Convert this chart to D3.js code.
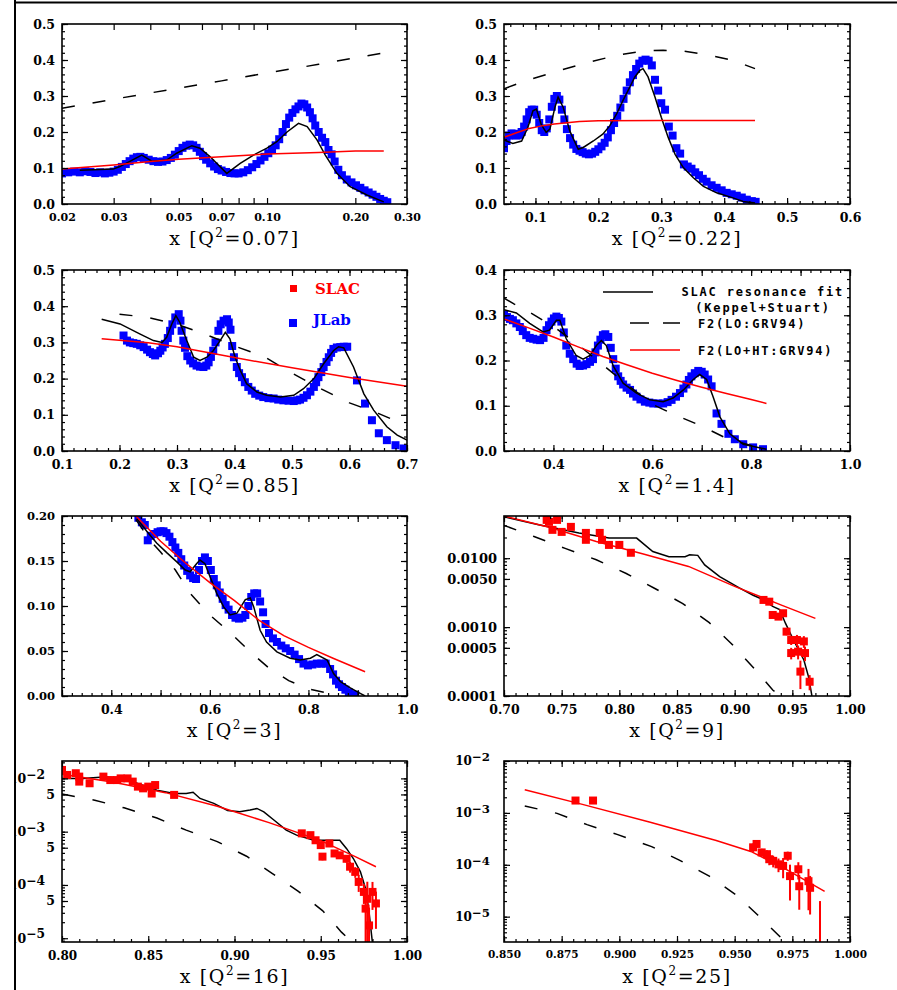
<!DOCTYPE html>
<html><head><meta charset="utf-8">
<script src="https://cdn.jsdelivr.net/npm/d3@7"></script>
<style>body{margin:0;background:#fff}svg{display:block}</style>
</head><body><svg id="c" width="897" height="990"></svg>
<script>
// ---------------- DATA ----------------
// Panel titles (Q^2 values)
const qLabels = ["0.07","0.22","0.85","1.4","3","9","16","25"];

// Panel 1 (Q2=0.07), x log
const p1Blue = [[0.0200,0.085],[0.0210,0.088],[0.0220,0.090],[0.0230,0.088],[0.0240,0.091],[0.0250,0.089],[0.0260,0.086],[0.0270,0.088],[0.0280,0.085],[0.0290,0.087],[0.0300,0.090],[0.0310,0.095],[0.0320,0.103],[0.0330,0.111],[0.0340,0.119],[0.0350,0.126],[0.0360,0.130],[0.0370,0.131],[0.0380,0.128],[0.0395,0.123],[0.0410,0.119],[0.0425,0.117],[0.0440,0.118],[0.0455,0.122],[0.0470,0.128],[0.0485,0.137],[0.0500,0.147],[0.0515,0.156],[0.0530,0.162],[0.0545,0.165],[0.0560,0.163],[0.0575,0.156],[0.0590,0.145],[0.0605,0.133],[0.0620,0.123],[0.0640,0.113],[0.0660,0.104],[0.0680,0.097],[0.0700,0.093],[0.0725,0.089],[0.0750,0.086],[0.0775,0.085],[0.0800,0.085],[0.0830,0.088],[0.0860,0.094],[0.0890,0.102],[0.0920,0.111],[0.0950,0.121],[0.0980,0.131],[0.1010,0.141],[0.1040,0.151],[0.1070,0.163],[0.1100,0.180],[0.1130,0.200],[0.1160,0.222],[0.1190,0.240],[0.1220,0.253],[0.1250,0.263],[0.1280,0.271],[0.1310,0.279],[0.1340,0.277],[0.1370,0.268],[0.1400,0.255],[0.1430,0.238],[0.1460,0.218],[0.1500,0.200],[0.1540,0.184],[0.1580,0.172],[0.1620,0.150],[0.1660,0.138],[0.1700,0.118],[0.1750,0.095],[0.1800,0.080],[0.1870,0.068],[0.1940,0.060],[0.2010,0.052],[0.2080,0.045],[0.2150,0.038],[0.2220,0.032],[0.2290,0.026],[0.2360,0.020],[0.2430,0.014],[0.2500,0.009],[0.2570,0.005]];
const p1Fit = [[0.0230,0.094],[0.0299,0.097],[0.0315,0.104],[0.0374,0.136],[0.0405,0.119],[0.0455,0.122],[0.0492,0.141],[0.0554,0.162],[0.0591,0.155],[0.0640,0.131],[0.0729,0.085],[0.0810,0.113],[0.0899,0.136],[0.0999,0.155],[0.108,0.173],[0.117,0.200],[0.128,0.224],[0.137,0.215],[0.148,0.178],[0.158,0.136],[0.173,0.085],[0.192,0.048],[0.219,0.025],[0.250,0.006]];
const p1LO = [[0.02,0.266],[0.03,0.291],[0.05,0.322],[0.07,0.342],[0.10,0.364],[0.15,0.388],[0.25,0.420]];
const p1HT = [[0.02,0.097],[0.03,0.108],[0.04,0.118],[0.05,0.124],[0.07,0.131],[0.10,0.139],[0.15,0.143],[0.20,0.147],[0.25,0.147]];

// Panel 2 (Q2=0.22)
const p2Blue = [[0.050,0.155],[0.054,0.175],[0.058,0.190],[0.062,0.196],[0.066,0.195],[0.070,0.190],[0.074,0.192],[0.078,0.200],[0.082,0.215],[0.086,0.235],[0.090,0.255],[0.094,0.262],[0.098,0.262],[0.102,0.248],[0.106,0.225],[0.110,0.205],[0.114,0.200],[0.118,0.210],[0.122,0.235],[0.126,0.270],[0.130,0.292],[0.134,0.300],[0.138,0.290],[0.142,0.262],[0.146,0.235],[0.150,0.208],[0.155,0.183],[0.160,0.165],[0.165,0.153],[0.170,0.148],[0.175,0.144],[0.180,0.140],[0.185,0.138],[0.190,0.140],[0.195,0.145],[0.200,0.152],[0.205,0.160],[0.210,0.170],[0.215,0.185],[0.220,0.205],[0.225,0.225],[0.230,0.245],[0.235,0.268],[0.240,0.292],[0.245,0.315],[0.250,0.338],[0.255,0.358],[0.260,0.375],[0.265,0.390],[0.270,0.398],[0.275,0.401],[0.280,0.398],[0.285,0.385],[0.290,0.345],[0.295,0.315],[0.300,0.280],[0.306,0.262],[0.312,0.215],[0.318,0.190],[0.324,0.155],[0.330,0.140],[0.336,0.110],[0.342,0.104],[0.348,0.098],[0.354,0.088],[0.360,0.080],[0.366,0.070],[0.372,0.062],[0.380,0.052],[0.388,0.045],[0.396,0.038],[0.404,0.031],[0.412,0.027],[0.420,0.023],[0.428,0.018],[0.436,0.012],[0.444,0.008],[0.450,0.006]];
const p2Fit = [[0.050,0.178],[0.064,0.168],[0.078,0.175],[0.088,0.213],[0.096,0.259],[0.1015,0.264],[0.109,0.222],[0.117,0.199],[0.123,0.208],[0.131,0.269],[0.136,0.297],[0.144,0.269],[0.1545,0.203],[0.168,0.152],[0.176,0.157],[0.192,0.175],[0.207,0.194],[0.218,0.217],[0.229,0.250],[0.239,0.287],[0.250,0.325],[0.258,0.353],[0.266,0.371],[0.271,0.376],[0.279,0.353],[0.290,0.297],[0.300,0.241],[0.311,0.185],[0.322,0.138],[0.335,0.101],[0.351,0.073],[0.367,0.049],[0.388,0.031],[0.414,0.017],[0.430,0.007],[0.449,0.003]];
const p2LO = [[0.050,0.320],[0.0855,0.343],[0.139,0.371],[0.176,0.390],[0.229,0.413],[0.271,0.425],[0.303,0.427],[0.335,0.425],[0.377,0.413],[0.414,0.399],[0.449,0.376]];
const p2HT = [[0.05,0.185],[0.07,0.198],[0.09,0.210],[0.11,0.217],[0.13,0.222],[0.15,0.226],[0.17,0.229],[0.20,0.231],[0.30,0.232],[0.449,0.232]];

// Panel 3 (Q2=0.85)
const p3Blue = [[0.207,0.319],[0.213,0.305],[0.218,0.300],[0.224,0.298],[0.230,0.296],[0.236,0.292],[0.242,0.287],[0.248,0.280],[0.253,0.273],[0.258,0.268],[0.262,0.264],[0.267,0.270],[0.271,0.277],[0.275,0.286],[0.279,0.296],[0.284,0.312],[0.288,0.332],[0.292,0.350],[0.297,0.369],[0.303,0.378],[0.306,0.360],[0.308,0.332],[0.311,0.305],[0.314,0.285],[0.318,0.262],[0.323,0.250],[0.328,0.242],[0.334,0.236],[0.340,0.233],[0.346,0.232],[0.351,0.236],[0.355,0.245],[0.359,0.260],[0.363,0.277],[0.367,0.300],[0.372,0.332],[0.376,0.350],[0.381,0.360],[0.387,0.364],[0.390,0.355],[0.393,0.335],[0.396,0.290],[0.399,0.259],[0.404,0.232],[0.408,0.215],[0.413,0.204],[0.418,0.190],[0.424,0.177],[0.430,0.167],[0.436,0.158],[0.443,0.153],[0.450,0.149],[0.459,0.146],[0.468,0.145],[0.476,0.142],[0.485,0.140],[0.494,0.139],[0.503,0.138],[0.509,0.140],[0.514,0.142],[0.520,0.147],[0.526,0.154],[0.532,0.164],[0.538,0.177],[0.542,0.190],[0.546,0.204],[0.551,0.218],[0.555,0.232],[0.560,0.246],[0.564,0.259],[0.568,0.271],[0.572,0.282],[0.578,0.286],[0.584,0.287],[0.590,0.288],[0.596,0.288],[0.613,0.195],[0.627,0.131],[0.639,0.085],[0.651,0.049],[0.665,0.030],[0.680,0.016],[0.694,0.007]];
const p3Fit = [[0.169,0.364],[0.201,0.351],[0.236,0.323],[0.259,0.305],[0.274,0.300],[0.282,0.314],[0.291,0.351],[0.298,0.374],[0.305,0.355],[0.317,0.305],[0.329,0.259],[0.340,0.250],[0.352,0.259],[0.363,0.277],[0.375,0.305],[0.384,0.328],[0.392,0.310],[0.401,0.259],[0.410,0.223],[0.421,0.186],[0.439,0.163],[0.456,0.154],[0.480,0.149],[0.503,0.154],[0.520,0.172],[0.538,0.200],[0.555,0.241],[0.572,0.277],[0.581,0.288],[0.590,0.285],[0.607,0.232],[0.625,0.158],[0.642,0.113],[0.665,0.067],[0.683,0.044],[0.700,0.030]];
const p3LO = [[0.20,0.378],[0.25,0.369],[0.30,0.350],[0.35,0.322],[0.40,0.290],[0.45,0.262],[0.50,0.215],[0.55,0.172],[0.60,0.133],[0.65,0.104],[0.70,0.070]];
const p3HT = [[0.169,0.310],[0.25,0.299],[0.30,0.288],[0.40,0.258],[0.50,0.230],[0.60,0.203],[0.70,0.179]];

// Panel 4 (Q2=1.4)
const p4Blue = [[0.300,0.301],[0.306,0.296],[0.312,0.292],[0.318,0.289],[0.325,0.282],[0.332,0.274],[0.338,0.265],[0.345,0.256],[0.352,0.250],[0.359,0.248],[0.366,0.246],[0.373,0.245],[0.380,0.250],[0.386,0.267],[0.391,0.278],[0.396,0.286],[0.401,0.293],[0.406,0.297],[0.411,0.294],[0.416,0.286],[0.421,0.262],[0.426,0.233],[0.433,0.215],[0.440,0.203],[0.447,0.193],[0.453,0.188],[0.460,0.189],[0.467,0.192],[0.474,0.197],[0.480,0.203],[0.485,0.218],[0.490,0.233],[0.495,0.246],[0.500,0.256],[0.505,0.258],[0.511,0.252],[0.516,0.228],[0.521,0.203],[0.526,0.182],[0.531,0.165],[0.536,0.155],[0.541,0.147],[0.548,0.140],[0.555,0.135],[0.561,0.127],[0.568,0.120],[0.576,0.114],[0.585,0.109],[0.594,0.107],[0.602,0.105],[0.612,0.105],[0.622,0.105],[0.631,0.108],[0.639,0.113],[0.648,0.120],[0.656,0.128],[0.663,0.138],[0.669,0.147],[0.674,0.157],[0.679,0.165],[0.686,0.172],[0.693,0.177],[0.700,0.175],[0.706,0.169],[0.713,0.158],[0.720,0.143],[0.730,0.083],[0.740,0.060],[0.754,0.038],[0.767,0.026],[0.784,0.015],[0.804,0.008],[0.824,0.004]];
const p4Fit = [[0.300,0.312],[0.325,0.305],[0.352,0.282],[0.379,0.263],[0.392,0.267],[0.406,0.289],[0.413,0.289],[0.426,0.248],[0.446,0.211],[0.460,0.203],[0.474,0.211],[0.487,0.233],[0.497,0.244],[0.507,0.233],[0.521,0.188],[0.541,0.150],[0.568,0.128],[0.595,0.113],[0.622,0.109],[0.642,0.117],[0.663,0.135],[0.683,0.158],[0.696,0.169],[0.710,0.158],[0.723,0.120],[0.737,0.075],[0.757,0.038],[0.784,0.015],[0.831,0.004]];
const p4LO = [[0.30,0.338],[0.32,0.325],[0.35,0.308],[0.40,0.275],[0.45,0.235],[0.50,0.190],[0.55,0.146],[0.60,0.103],[0.65,0.078],[0.70,0.055],[0.75,0.028],[0.80,0.012]];
const p4HT = [[0.30,0.292],[0.35,0.272],[0.40,0.252],[0.45,0.230],[0.50,0.209],[0.55,0.190],[0.60,0.172],[0.65,0.156],[0.70,0.141],[0.75,0.127],[0.80,0.114],[0.831,0.105]];

// Panel 5 (Q2=3)
const p5Blue = [[0.455,0.198],[0.462,0.193],[0.468,0.190],[0.474,0.173],[0.480,0.178],[0.487,0.180],[0.494,0.182],[0.500,0.183],[0.506,0.183],[0.512,0.181],[0.518,0.177],[0.524,0.171],[0.530,0.165],[0.536,0.159],[0.542,0.152],[0.548,0.145],[0.554,0.139],[0.560,0.134],[0.566,0.131],[0.572,0.130],[0.578,0.140],[0.584,0.150],[0.590,0.154],[0.596,0.150],[0.602,0.140],[0.608,0.130],[0.614,0.123],[0.620,0.115],[0.626,0.108],[0.632,0.101],[0.638,0.096],[0.645,0.090],[0.652,0.087],[0.659,0.086],[0.666,0.087],[0.672,0.090],[0.678,0.100],[0.684,0.110],[0.690,0.114],[0.696,0.114],[0.702,0.105],[0.708,0.093],[0.713,0.080],[0.720,0.070],[0.728,0.064],[0.736,0.060],[0.745,0.056],[0.754,0.053],[0.763,0.050],[0.772,0.046],[0.781,0.041],[0.790,0.036],[0.799,0.034],[0.808,0.035],[0.817,0.036],[0.826,0.036],[0.835,0.036],[0.844,0.030],[0.850,0.024],[0.856,0.017],[0.862,0.013],[0.868,0.010],[0.875,0.007],[0.882,0.004],[0.889,0.002],[0.895,0.001]];
const p5Fit = [[0.452,0.197],[0.472,0.183],[0.492,0.170],[0.513,0.159],[0.533,0.149],[0.550,0.140],[0.560,0.138],[0.573,0.147],[0.580,0.151],[0.590,0.147],[0.600,0.133],[0.614,0.114],[0.628,0.099],[0.641,0.090],[0.655,0.092],[0.672,0.107],[0.682,0.109],[0.689,0.099],[0.702,0.073],[0.715,0.060],[0.736,0.049],[0.763,0.042],[0.783,0.040],[0.804,0.042],[0.817,0.046],[0.838,0.040],[0.851,0.025],[0.865,0.016],[0.885,0.009],[0.905,0.003],[0.915,0.000]];
const p5LO = [[0.450,0.196],[0.480,0.172],[0.500,0.160],[0.530,0.140],[0.560,0.114],[0.600,0.090],[0.640,0.071],[0.680,0.050],[0.720,0.031],[0.760,0.017],[0.800,0.008],[0.840,0.003],[0.860,0.001]];
const p5HT = [[0.450,0.200],[0.500,0.172],[0.550,0.148],[0.600,0.126],[0.650,0.106],[0.700,0.084],[0.750,0.067],[0.800,0.054],[0.850,0.042],[0.915,0.027]];

// Panel 6 (Q2=9) — SLAC points: [x, F2, error]
const p6Slac = [[0.737,0.0360,0.003],[0.739,0.0337,0.003],[0.742,0.0258,0.002],[0.746,0.0360,0.003],[0.750,0.0241,0.002],[0.758,0.0285,0.002],[0.771,0.0233,0.002],[0.771,0.0185,0.0015],[0.783,0.0233,0.002],[0.785,0.0185,0.0015],[0.791,0.0156,0.0013],[0.800,0.0156,0.0013],[0.810,0.0120,0.001],[0.925,0.00248,0.0002],[0.930,0.00234,0.0002],[0.933,0.00150,0.00015],[0.938,0.00142,0.00015],[0.942,0.00159,0.00015],[0.945,0.00086,0.0001],[0.949,0.00065,0.0001],[0.954,0.00065,0.00012],[0.960,0.00062,0.00012],[0.949,0.00042,0.00008],[0.955,0.00044,0.0001],[0.961,0.00042,0.0001],[0.957,0.000226,0.0001],[0.965,0.000161,0.00004]];
const p6Fit = [[0.700,0.0399],[0.730,0.0305],[0.765,0.0233],[0.791,0.0196],[0.815,0.0196],[0.829,0.0125],[0.843,0.0105],[0.857,0.0105],[0.861,0.0112],[0.868,0.0110],[0.874,0.0080],[0.887,0.0054],[0.904,0.0037],[0.916,0.0029],[0.925,0.0025],[0.933,0.0020],[0.939,0.0018],[0.944,0.00114],[0.951,0.00065],[0.960,0.000333],[0.964,0.000191],[0.967,0.0001]];
const p6LO = [[0.700,0.0300],[0.726,0.0207],[0.753,0.0139],[0.780,0.0095],[0.806,0.0060],[0.830,0.0037],[0.855,0.0022],[0.878,0.00116],[0.897,0.00058],[0.917,0.00025],[0.933,0.000122],[0.940,0.0001]];
const p6HT = [[0.700,0.0410],[0.740,0.0279],[0.780,0.0175],[0.820,0.0116],[0.860,0.0076],[0.900,0.0039],[0.940,0.0021],[0.970,0.00134]];

// Panel 7 (Q2=16)
const p7Slac = [[0.800,0.0144,0.002],[0.803,0.0116,0.0012],[0.808,0.0125,0.0012],[0.810,0.0108,0.001],[0.810,0.0087,0.0008],[0.816,0.0081,0.0008],[0.824,0.0108,0.001],[0.828,0.0093,0.0009],[0.832,0.0093,0.0009],[0.834,0.0100,0.001],[0.838,0.0100,0.001],[0.841,0.0087,0.0008],[0.844,0.0070,0.0007],[0.847,0.0065,0.0006],[0.850,0.0070,0.0007],[0.852,0.0052,0.0005],[0.854,0.0075,0.0007],[0.865,0.0049,0.0005],[0.939,0.00093,0.0001],[0.944,0.00086,0.0001],[0.947,0.00069,0.00008],[0.950,0.00056,0.00007],[0.951,0.00034,0.00005],[0.955,0.00060,0.00007],[0.958,0.00039,0.00005],[0.961,0.00036,0.00005],[0.965,0.00031,0.00005],[0.967,0.00022,0.00005],[0.970,0.000176,0.00004],[0.972,0.000114,0.00004],[0.975,0.000074,0.00003],[0.977,0.000055,0.00006],[0.980,0.000074,0.00004],[0.976,0.000036,0.00004],[0.978,0.0000174,0.00002],[0.982,0.000045,0.00003]];
const p7Fit = [[0.800,0.0100],[0.812,0.0100],[0.826,0.0107],[0.841,0.0087],[0.855,0.0060],[0.865,0.0052],[0.872,0.0052],[0.876,0.0055],[0.880,0.0042],[0.888,0.0034],[0.896,0.0025],[0.903,0.00236],[0.909,0.00254],[0.913,0.00273],[0.917,0.00236],[0.923,0.00164],[0.930,0.00107],[0.936,0.00086],[0.946,0.00069],[0.955,0.00069],[0.961,0.00069],[0.965,0.00048],[0.969,0.00031],[0.973,0.000176],[0.976,0.000085],[0.978,0.000031],[0.980,0.000008]];
const p7LO = [[0.800,0.0051],[0.819,0.0039],[0.836,0.0028],[0.855,0.0018],[0.872,0.00107],[0.890,0.00065],[0.907,0.000346],[0.922,0.000163],[0.937,0.000076],[0.951,0.000033],[0.962,0.000013],[0.968,0.0000085]];
const p7HT = [[0.800,0.0120],[0.830,0.0085],[0.860,0.0054],[0.890,0.0030],[0.920,0.00148],[0.950,0.00068],[0.970,0.00034],[0.982,0.00022]];

// Panel 8 (Q2=25)
const p8Slac = [[0.881,0.00173,0.00015],[0.8886,0.00173,0.00015],[0.958,0.000217,0.00004],[0.9595,0.000252,0.00004],[0.9617,0.000173,0.00003],[0.964,0.00016,0.00003],[0.965,0.000128,0.00003],[0.9667,0.000119,0.00003],[0.969,0.000102,0.00003],[0.971,0.000095,0.00004],[0.973,0.000149,0.00003],[0.974,0.0000605,0.00004],[0.9776,0.000082,0.00003],[0.978,0.0000386,0.000025],[0.982,0.0000483,0.000035],[0.9827,0.000036,0.000025],[0.987,0.000001,0.000019]];
const p8LO = [[0.859,0.00136],[0.873,0.00098],[0.886,0.000594],[0.899,0.000385],[0.914,0.000224],[0.926,0.000123],[0.939,0.0000605],[0.951,0.0000254],[0.960,0.0000108],[0.969,0.0000044],[0.972,0.0000032]];
const p8HT = [[0.859,0.00279],[0.884,0.00146],[0.913,0.00067],[0.942,0.000293],[0.957,0.000181],[0.971,0.000088],[0.989,0.0000308]];

// Tick labels
const lab01 = [[0,"0.0"],[0.1,"0.1"],[0.2,"0.2"],[0.3,"0.3"],[0.4,"0.4"],[0.5,"0.5"]];
const p1XLabels = [[0.02,"0.02"],[0.03,"0.03"],[0.05,"0.05"],[0.07,"0.07"],[0.1,"0.10"],[0.2,"0.20"],[0.3,"0.30"]];
const p2XLabels = [[0.1,"0.1"],[0.2,"0.2"],[0.3,"0.3"],[0.4,"0.4"],[0.5,"0.5"],[0.6,"0.6"]];
const p3XLabels = [[0.1,"0.1"],[0.2,"0.2"],[0.3,"0.3"],[0.4,"0.4"],[0.5,"0.5"],[0.6,"0.6"],[0.7,"0.7"]];
const p45XLabels = [[0.4,"0.4"],[0.6,"0.6"],[0.8,"0.8"],[1.0,"1.0"]];
const p5YLabels = [[0,"0.00"],[0.05,"0.05"],[0.1,"0.10"],[0.15,"0.15"],[0.2,"0.20"]];
const p6XLabels = [[0.7,"0.70"],[0.75,"0.75"],[0.8,"0.80"],[0.85,"0.85"],[0.9,"0.90"],[0.95,"0.95"],[1.0,"1.00"]];
const p6YLabels = [[1e-4,"0.0001"],[5e-4,"0.0005"],[1e-3,"0.0010"],[5e-3,"0.0050"],[1e-2,"0.0100"]];
const p7XLabels = [[0.8,"0.80"],[0.85,"0.85"],[0.9,"0.90"],[0.95,"0.95"],[1.0,"1.00"]];
const p7YLabels = [[1e-2,"10^−2"],[5e-3,"5"],[1e-3,"10^−3"],[5e-4,"5"],[1e-4,"10^−4"],[5e-5,"5"],[1e-5,"10^−5"]];
const p8XLabels = [[0.85,"0.850"],[0.875,"0.875"],[0.9,"0.900"],[0.925,"0.925"],[0.95,"0.950"],[0.975,"0.975"],[1.0,"1.000"]];
const p8YLabels = [[1e-2,"10^−2"],[1e-3,"10^−3"],[1e-4,"10^−4"],[1e-5,"10^−5"]];

// ---------------- LAYOUT ----------------
const L = {x0:62, x1:407}, R = {x0:504, x1:850};
const rows = [[24,204],[270,451],[516,696],[761,942]];
const step = (a,b,s) => d3.range(Math.round(a/s), Math.round(b/s)+1).map(k => +(k*s).toFixed(6));
const logMinor = (lo,hi) => { const out=[]; for (let e=-7;e<=0;e++) for (let m=1;m<=9;m++){ const v=+(m*Math.pow(10,e)).toPrecision(6); if(v>=lo*0.999&&v<=hi*1.001) out.push(v);} return out; };

const panels = [
 {col:L,row:0,xLog:true,xDom:[0.02,0.3],yDom:[0,0.5],
  xMajor:[0.02,0.03,0.04,0.05,0.06,0.07,0.08,0.09,0.1,0.2,0.3],xMinor:[],xLabels:p1XLabels,xFont:11,
  yMajor:step(0,0.5,0.1),yMinor:step(0,0.5,0.02),yLabels:lab01,yFont:12.5,
  blue:p1Blue,fit:p1Fit,lo:p1LO,ht:p1HT},
 {col:R,row:0,xDom:[0.05,0.6],yDom:[0,0.5],
  xMajor:step(0.1,0.6,0.1),xMinor:step(0.06,0.6,0.02),xLabels:p2XLabels,xFont:12.5,
  yMajor:step(0,0.5,0.1),yMinor:step(0,0.5,0.02),yLabels:lab01,yFont:12.5,
  blue:p2Blue,fit:p2Fit,lo:p2LO,ht:p2HT},
 {col:L,row:1,xDom:[0.1,0.7],yDom:[0,0.5],
  xMajor:step(0.1,0.7,0.1),xMinor:step(0.1,0.7,0.02),xLabels:p3XLabels,xFont:12.5,
  yMajor:step(0,0.5,0.1),yMinor:step(0,0.5,0.02),yLabels:lab01,yFont:12.5,
  blue:p3Blue,fit:p3Fit,lo:p3LO,ht:p3HT},
 {col:R,row:1,xDom:[0.3,1.0],yDom:[0,0.4],
  xMajor:step(0.3,1.0,0.1),xMinor:step(0.3,1.0,0.02),xLabels:p45XLabels,xFont:12.5,
  yMajor:step(0,0.4,0.1),yMinor:step(0,0.4,0.02),yLabels:lab01,yFont:12.5,
  blue:p4Blue,fit:p4Fit,lo:p4LO,ht:p4HT},
 {col:L,row:2,xDom:[0.3,1.0],yDom:[0,0.2],
  xMajor:step(0.3,1.0,0.1),xMinor:step(0.3,1.0,0.02),xLabels:p45XLabels,xFont:12.5,
  yMajor:step(0,0.2,0.05),yMinor:step(0,0.2,0.01),yLabels:p5YLabels,yFont:11.5,
  blue:p5Blue,fit:p5Fit,lo:p5LO,ht:p5HT},
 {col:R,row:2,yLog:true,xDom:[0.7,1.0],yDom:[1e-4,0.041],
  xMajor:step(0.7,1.0,0.05),xMinor:step(0.7,1.0,0.01),xLabels:p6XLabels,xFont:12.5,
  yMajor:[1e-4,5e-4,1e-3,5e-3,1e-2],yMinor:logMinor(1e-4,0.041),yLabels:p6YLabels,yFont:13,
  slac:p6Slac,fit:p6Fit,lo:p6LO,ht:p6HT},
 {col:L,row:3,yLog:true,xDom:[0.8,1.0],yDom:[8.5e-6,0.0212],
  xMajor:step(0.8,1.0,0.05),xMinor:step(0.8,1.0,0.01),xLabels:p7XLabels,xFont:12,
  yMajor:[1e-5,5e-5,1e-4,5e-4,1e-3,5e-3,1e-2],yMinor:logMinor(8.5e-6,0.0212),yLabels:p7YLabels,yFont:12.5,
  slac:p7Slac,fit:p7Fit,lo:p7LO,ht:p7HT},
 {col:R,row:3,yLog:true,xDom:[0.85,1.0],yDom:[3.25e-6,1e-2],
  xMajor:step(0.85,1.0,0.025),xMinor:step(0.85,1.0,0.005),xLabels:p8XLabels,xFont:10.5,
  yMajor:[1e-5,1e-4,1e-3,1e-2],yMinor:logMinor(3.25e-6,1e-2),yLabels:p8YLabels,yFont:12,
  slac:p8Slac,fit:null,lo:p8LO,ht:p8HT}
];

// ---------------- DRAW ----------------
const svg = d3.select('#c');
svg.append('rect').attr('width',897).attr('height',990).attr('fill','#fff');
const TF = "'DejaVu Serif', serif";
const lookup = labels => v => { const m = labels.find(l => Math.abs(l[0]-v) <= 1e-6*Math.max(Math.abs(v),1e-9)); return m ? m[1] : ''; };

panels.forEach((p,i) => {
  const x0=p.col.x0, x1=p.col.x1, y0=rows[p.row][0], y1=rows[p.row][1];
  const xs = (p.xLog?d3.scaleLog():d3.scaleLinear()).domain(p.xDom).range([x0,x1]);
  const ys = (p.yLog?d3.scaleLog():d3.scaleLinear()).domain(p.yDom).range([y1,y0]);
  const g = svg.append('g');
  svg.append('clipPath').attr('id','cp'+i).append('rect').attr('x',x0).attr('y',y0).attr('width',x1-x0).attr('height',y1-y0);
  const pl = g.append('g').attr('clip-path',`url(#cp${i})`);
  const line = d3.line().x(d=>xs(d[0])).y(d=>ys(d[1]));
  const ms = 8;
  if (p.blue) pl.append('g').selectAll('rect').data(p.blue).join('rect')
      .attr('x',d=>xs(d[0])-ms/2).attr('y',d=>ys(d[1])-ms/2).attr('width',ms).attr('height',ms).attr('fill','#0000ff');
  if (p.fit) pl.append('path').attr('d',line(p.fit)).attr('fill','none').attr('stroke','#000').attr('stroke-width',1.5);
  pl.append('path').attr('d',line(p.lo)).attr('fill','none').attr('stroke','#000').attr('stroke-width',1.5).attr('stroke-dasharray','13,18');
  pl.append('path').attr('d',line(p.ht)).attr('fill','none').attr('stroke','#ff0000').attr('stroke-width',1.5);
  if (p.slac) {
    const bot = p.yDom[0]*0.3;
    pl.append('g').selectAll('line').data(p.slac).join('line')
      .attr('x1',d=>xs(d[0])).attr('x2',d=>xs(d[0]))
      .attr('y1',d=>ys(d[1]-d[2] > bot ? d[1]-d[2] : bot)).attr('y2',d=>ys(d[1]+d[2]))
      .attr('stroke','#ff0000').attr('stroke-width',2);
    pl.append('g').selectAll('rect').data(p.slac.filter(d=>d[1]>=p.yDom[0]*0.5)).join('rect')
      .attr('x',d=>xs(d[0])-ms/2).attr('y',d=>ys(d[1])-ms/2).attr('width',ms).attr('height',ms).attr('fill','#ff0000');
  }
  // axes
  const inX = v => v>=p.xDom[0]*0.9999 && v<=p.xDom[1]*1.0001;
  const inY = v => v>=p.yDom[0]*0.9999 && v<=p.yDom[1]*1.0001;
  const style = (sel,fs) => { sel.select('.domain').remove();
    sel.selectAll('.tick line').attr('stroke','#000').attr('stroke-width',1.2);
    sel.selectAll('.tick text').attr('fill','#000').attr('font-family',TF).attr('font-weight','bold').attr('font-size',fs); };
  const xMaj = p.xMajor.filter(inX), xMin = p.xMinor.filter(inX), yMaj = p.yMajor.filter(inY), yMin = p.yMinor.filter(inY);
  style(g.append('g').attr('transform',`translate(0,${y1})`).call(d3.axisBottom(xs).tickValues(xMin).tickSize(-3).tickSizeOuter(0).tickFormat('')));
  style(g.append('g').attr('transform',`translate(0,${y0})`).call(d3.axisTop(xs).tickValues(xMin).tickSize(-3).tickSizeOuter(0).tickFormat('')));
  style(g.append('g').attr('transform',`translate(${x0},0)`).call(d3.axisLeft(ys).tickValues(yMin).tickSize(-3).tickSizeOuter(0).tickFormat('')));
  style(g.append('g').attr('transform',`translate(${x1},0)`).call(d3.axisRight(ys).tickValues(yMin).tickSize(-3).tickSizeOuter(0).tickFormat('')));
  style(g.append('g').attr('transform',`translate(0,${y1})`).call(d3.axisBottom(xs).tickValues(xMaj).tickSize(-6).tickSizeOuter(0).tickPadding(9).tickFormat(lookup(p.xLabels))), p.xFont);
  style(g.append('g').attr('transform',`translate(0,${y0})`).call(d3.axisTop(xs).tickValues(xMaj).tickSize(-6).tickSizeOuter(0).tickFormat('')));
  const ya = g.append('g').attr('transform',`translate(${x0},0)`).call(d3.axisLeft(ys).tickValues(yMaj).tickSize(-6).tickSizeOuter(0).tickPadding(7).tickFormat(lookup(p.yLabels)));
  style(ya, p.yFont);
  const supX = p.col===L ? -17 : -14;
  ya.selectAll('.tick text').each(function(){ const s = d3.select(this).text();
    if (s.includes('^')) { const [b,e] = s.split('^'); const t = d3.select(this).text(null).attr('x',supX);
      t.append('tspan').text(b); t.append('tspan').attr('dy','-0.35em').attr('font-size','0.98em').text(e); } });
  style(g.append('g').attr('transform',`translate(${x1},0)`).call(d3.axisRight(ys).tickValues(yMaj).tickSize(-6).tickSizeOuter(0).tickFormat('')));
  g.append('rect').attr('x',x0).attr('y',y0).attr('width',x1-x0).attr('height',y1-y0).attr('fill','none').attr('stroke','#000').attr('stroke-width',1.6);
  // title
  const t = g.append('text').attr('x',(x0+x1)/2).attr('y',y1+41).attr('text-anchor','middle')
    .attr('font-family',TF).attr('font-size',19).attr('letter-spacing',1.6).attr('fill','#000');
  t.append('tspan').text('x [Q');
  t.append('tspan').attr('dy',-8).attr('font-size',12).text('2');
  t.append('tspan').attr('dy',8).text('=' + qLabels[i] + ']');
});

// Legend in panel 3 (data sets)
const lg3 = svg.append('g');
lg3.append('rect').attr('x',290).attr('y',285).attr('width',7).attr('height',7).attr('fill','#ff0000');
lg3.append('text').attr('x',315).attr('y',294).attr('fill','#ff0000').attr('font-family',TF).attr('font-weight','bold').attr('font-size',15).text('SLAC');
lg3.append('rect').attr('x',289).attr('y',319).attr('width',8).attr('height',8).attr('fill','#0000ff');
lg3.append('text').attr('x',313).attr('y',325).attr('fill','#0000ff').attr('font-family',TF).attr('font-weight','bold').attr('font-size',15).text('JLab');

// Legend in panel 4 (curves)
const MF = "'DejaVu Sans Mono', monospace";
const lg4 = svg.append('g').attr('font-family',MF).attr('font-weight','bold').attr('font-size',12).attr('letter-spacing',1.8).attr('fill','#000');
lg4.append('line').attr('x1',603).attr('x2',653).attr('y1',292).attr('y2',292).attr('stroke','#000').attr('stroke-width',1.5);
lg4.append('text').attr('x',844).attr('y',296).attr('text-anchor','end').text('SLAC resonance fit');
lg4.append('text').attr('x',763).attr('y',312).attr('text-anchor','middle').text('(Keppel+Stuart)');
lg4.append('line').attr('x1',630).attr('x2',680).attr('y1',323).attr('y2',323).attr('stroke','#000').attr('stroke-width',1.5).attr('stroke-dasharray','19,14');
lg4.append('text').attr('x',698).attr('y',328).text('F2(LO:GRV94)');
lg4.append('line').attr('x1',630).attr('x2',680).attr('y1',350).attr('y2',350).attr('stroke','#ff0000').attr('stroke-width',1.5);
lg4.append('text').attr('x',698).attr('y',355).text('F2(LO+HT:GRV94)');

// page border (cropped page)
svg.append('rect').attr('x',0).attr('y',0).attr('width',14).attr('height',990).attr('fill','#fff');
svg.append('line').attr('x1',15).attr('x2',15).attr('y1',0).attr('y2',990).attr('stroke','#000').attr('stroke-width',2);
svg.append('line').attr('x1',15).attr('x2',897).attr('y1',2.5).attr('y2',2.5).attr('stroke','#000').attr('stroke-width',2);
</script></body></html>
